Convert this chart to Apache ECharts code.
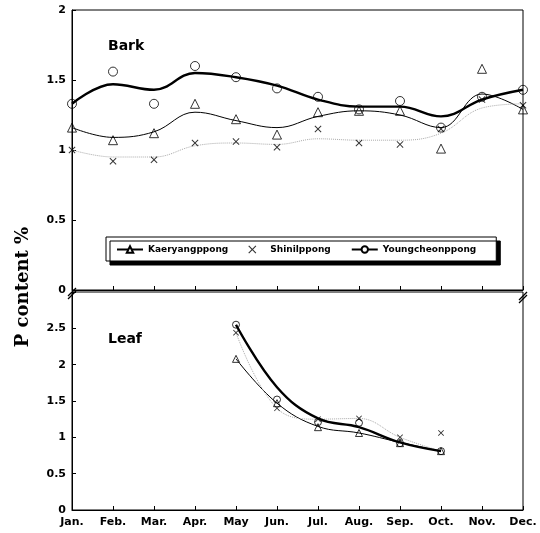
<!DOCTYPE html>
<html style="height: 100%">
<head>
    <meta charset="utf-8">
</head>
<body style="height: 100%; margin: 0; background: #fff">
<div id="container" style="width: 540px; height: 533px"></div>

<script type="text/javascript" src="https://cdn.jsdelivr.net/npm/echarts@6/dist/echarts.min.js"></script>
<script type="text/javascript">
    // months on the shared x axis
    const months = ['Jan.', 'Feb.', 'Mar.', 'Apr.', 'May', 'Jun.', 'Jul.', 'Aug.', 'Sep.', 'Oct.', 'Nov.', 'Dec.'];
    const yTicksBark = [0, 0.5, 1, 1.5, 2];
    const yTicksLeaf = [0, 0.5, 1, 1.5, 2, 2.5];

    // Bark: measured points
    const barkKaeryang = [1.16, 1.07, 1.12, 1.33, 1.22, 1.11, 1.27, 1.28, 1.28, 1.01, 1.58, 1.29];
    const barkShinil = [1.00, 0.92, 0.93, 1.05, 1.06, 1.02, 1.15, 1.05, 1.04, 1.15, 1.36, 1.32];
    const barkYoungcheon = [1.33, 1.56, 1.33, 1.60, 1.52, 1.44, 1.38, 1.29, 1.35, 1.16, 1.38, 1.43];
    // Bark: fitted curves
    const barkKaeryangCurve = [1.16, 1.09, 1.13, 1.27, 1.21, 1.16, 1.24, 1.28, 1.25, 1.16, 1.40, 1.29];
    const barkShinilCurve = [1.00, 0.95, 0.95, 1.03, 1.05, 1.04, 1.08, 1.07, 1.07, 1.12, 1.30, 1.33];
    const barkYoungcheonCurve = [1.33, 1.47, 1.43, 1.55, 1.52, 1.46, 1.36, 1.31, 1.31, 1.24, 1.36, 1.43];

    // Leaf: measured points (May - Oct)
    const leafKaeryang = [null, null, null, null, 2.08, 1.47, 1.14, 1.06, 0.92, 0.81, null, null];
    const leafShinil = [null, null, null, null, 2.44, 1.40, 1.25, 1.26, 1.00, 1.06, null, null];
    const leafYoungcheon = [null, null, null, null, 2.55, 1.52, 1.21, 1.20, 0.92, 0.81, null, null];
    // Leaf: curves
    const leafKaeryangCurve = [null, null, null, null, 2.08, 1.47, 1.15, 1.06, 0.93, 0.81, null, null];
    const leafShinilCurve = [null, null, null, null, 2.44, 1.40, 1.25, 1.26, 1.00, 0.81, null, null];
    const leafYoungcheonCurve = [null, null, null, null, 2.55, 1.69, 1.26, 1.14, 0.93, 0.81, null, null];

    const crossPath = 'path://M0,1L1,0L5,4L9,0L10,1L6,5L10,9L9,10L5,6L1,10L0,9L4,5Z';
    const font = 'DejaVu Sans';

    var dom = document.getElementById('container');
    var myChart = echarts.init(dom, null, {renderer: 'canvas'});

    function curve(name, data, idx, width, dotted, symbol) {
        return {
            name: name,
            type: 'line',
            xAxisIndex: idx,
            yAxisIndex: idx,
            data: data,
            smooth: 0.4,
            connectNulls: false,
            symbol: symbol,
            symbolSize: 8,
            showSymbol: false,
            lineStyle: {
                color: dotted ? '#aaa' : '#000',
                width: width,
                type: dotted ? 'dotted' : 'solid'
            },
            itemStyle: {color: '#fff', borderColor: '#000', borderWidth: 1},
            z: 2
        };
    }

    function points(name, data, idx, symbol, size) {
        return {
            name: name,
            type: 'scatter',
            xAxisIndex: idx,
            yAxisIndex: idx,
            data: data,
            symbol: symbol,
            symbolSize: size,
            itemStyle: symbol === crossPath
                ? {color: '#000'}
                : {color: 'rgba(255,255,255,0)', borderColor: '#000', borderWidth: 1},
            z: 3
        };
    }

    function xAxis(idx, showLabel) {
        return {
            type: 'category',
            gridIndex: idx,
            data: months,
            boundaryGap: false,
            axisLine: {lineStyle: {color: '#000', width: 1}},
            axisTick: {inside: true, length: 4, lineStyle: {color: '#000'}},
            axisLabel: {
                show: showLabel,
                color: '#000',
                fontFamily: font,
                fontWeight: 'bold',
                fontSize: 11,
                margin: 7
            },
            splitLine: {show: false}
        };
    }

    function yAxis(idx, ticks, max) {
        return {
            type: 'value',
            gridIndex: idx,
            min: 0,
            max: max,
            interval: 0.5,
            axisLine: {show: true, lineStyle: {color: '#000', width: 1}},
            axisTick: {show: true, inside: true, length: 4, lineStyle: {color: '#000'}},
            axisLabel: {
                color: '#000',
                fontFamily: font,
                fontWeight: 'bold',
                fontSize: 11,
                margin: 6,
                formatter: function (v) {
                    return ticks.indexOf(v) >= 0 ? String(v) : '';
                }
            },
            splitLine: {show: false}
        };
    }

    var option = {
        backgroundColor: '#fff',
        animation: false,
        grid: [
            {left: 72, right: 17, top: 10, height: 280, show: true, borderColor: '#000', borderWidth: 1},
            {left: 72, right: 17, top: 292, height: 218, show: true, borderColor: '#000', borderWidth: 1}
        ],
        xAxis: [xAxis(0, false), xAxis(1, true)],
        yAxis: [yAxis(0, yTicksBark, 2), yAxis(1, yTicksLeaf, 3)],
        legend: {
            data: ['Kaeryangppong', 'Shinilppong', 'Youngcheonppong'],
            left: 106,
            top: 237,
            padding: [8, 20, 7, 10],
            itemGap: 20,
            itemWidth: 26,
            itemHeight: 8,
            backgroundColor: '#fff',
            borderColor: '#000',
            borderWidth: 1,
            shadowColor: '#000',
            shadowOffsetX: 4,
            shadowOffsetY: 4,
            shadowBlur: 0,
            textStyle: {color: '#000', fontFamily: font, fontWeight: 'bold', fontSize: 9}
        },
        graphic: [
            {
                type: 'text', left: 108, top: 39,
                style: {text: 'Bark', fill: '#000', font: 'bold 14px "DejaVu Sans"'}
            },
            {
                type: 'text', left: 108, top: 332,
                style: {text: 'Leaf', fill: '#000', font: 'bold 14px "DejaVu Sans"'}
            },
            {
                type: 'text', x: 23, y: 287, rotation: Math.PI / 2,
                style: {
                    text: 'P content %', fill: '#000',
                    font: 'bold 18px "DejaVu Serif"',
                    align: 'center', verticalAlign: 'middle'
                }
            },
            // axis break marks
            {type: 'line', shape: {x1: 68, y1: 296, x2: 76, y2: 288}, style: {stroke: '#000', lineWidth: 1.2}},
            {type: 'line', shape: {x1: 68, y1: 299, x2: 76, y2: 291}, style: {stroke: '#000', lineWidth: 1.2}},
            {type: 'line', shape: {x1: 519, y1: 300, x2: 527, y2: 292}, style: {stroke: '#000', lineWidth: 1.2}},
            {type: 'line', shape: {x1: 519, y1: 303, x2: 527, y2: 295}, style: {stroke: '#000', lineWidth: 1.2}}
        ],
        series: [
            curve('Kaeryangppong', barkKaeryangCurve, 0, 1, false, 'triangle'),
            points('Shinilppong', barkShinil, 0, crossPath, 7),
            curve('Youngcheonppong', barkYoungcheonCurve, 0, 2.4, false, 'circle'),
            points('Kaeryangppong', barkKaeryang, 0, 'triangle', 9),
            curve('Shinilppong', barkShinilCurve, 0, 1, true, 'none'),
            points('Youngcheonppong', barkYoungcheon, 0, 'circle', 9),

            curve('Kaeryangppong', leafKaeryangCurve, 1, 1, false, 'triangle'),
            curve('Shinilppong', leafShinilCurve, 1, 1, true, 'none'),
            curve('Youngcheonppong', leafYoungcheonCurve, 1, 2.4, false, 'circle'),
            points('Kaeryangppong', leafKaeryang, 1, 'triangle', 7),
            points('Shinilppong', leafShinil, 1, crossPath, 6),
            points('Youngcheonppong', leafYoungcheon, 1, 'circle', 7)
        ]
    };

    if (option && typeof option === 'object') {
        myChart.setOption(option);
    }
</script>
</body>
</html>
